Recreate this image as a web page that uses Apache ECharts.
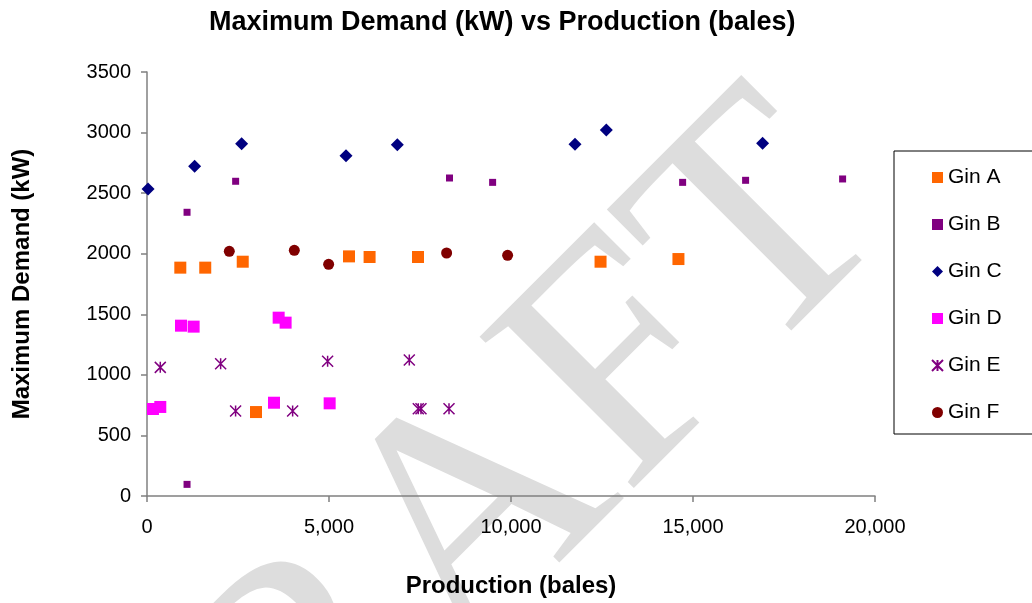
<!DOCTYPE html>
<html>
<head>
<meta charset="utf-8">
<script src="https://cdn.jsdelivr.net/npm/echarts@6/dist/echarts.min.js"></script>
<style>html,body{margin:0;padding:0;background:#fff}#c{width:1032px;height:603px}</style>
</head>
<body>
<div id="c"></div>
<script>
const titleText = 'Maximum Demand (kW) vs Production (bales)';
const xAxisName = 'Production (bales)';
const yAxisName = 'Maximum Demand (kW)';
const seriesNames = ['Gin A', 'Gin B', 'Gin C', 'Gin D', 'Gin E', 'Gin F'];

const ginA = [[915,1885],[1600,1885],[2630,1934],[5550,1978],[6115,1973],[7445,1973],[12460,1934],[14600,1956],[2995,693]];
const ginB = [[1100,2342],[2435,2598],[8310,2625],[9495,2589],[14715,2589],[16445,2606],[19110,2617],[1100,96]];
const ginC = [[30,2534],[1308,2722],[2600,2908],[5467,2809],[6876,2900],[11758,2903],[12618,3021],[16912,2911]];
const ginD = [[934,1406],[1281,1398],[3617,1472],[3808,1431],[164,718],[365,735],[3489,770],[5018,765]];
const ginE = [[365,1062],[2023,1092],[2434,702],[4001,702],[4962,1112],[7206,1123],[7453,721],[7527,721],[8297,721]];
const ginF = [[2261,2020],[4047,2028],[4990,1912],[8231,2006],[9907,1987]];

const chart = echarts.init(document.getElementById('c'), null, {renderer: 'canvas'});
const FONT = 'Liberation Sans, Arial, sans-serif';
const asterisk = 'path://M0,0L10,10M10,0L0,10M5,0L5,10';

function sc(name, data, symbol, size, color, extra) {
  return Object.assign({
    name: name, type: 'scatter', data: data, symbol: symbol, symbolSize: size,
    itemStyle: {color: color, opacity: 1}, z: 3
  }, extra || {});
}

chart.setOption({
  animation: false,
  backgroundColor: '#fff',
  title: {
    text: titleText, left: 204, top: 4,
    textStyle: {fontFamily: FONT, fontSize: 27, fontWeight: 'bold', color: '#000'}
  },
  graphic: [{
    type: 'text', left: -45, top: 46, z: -10, silent: true,
    rotation: Math.PI / 4,
    style: {text: 'DRAFT', font: '330px "Liberation Serif", serif', fill: '#dddddd'}
  }],
  legend: {
    orient: 'vertical', left: 894, top: 151,
    padding: [16, 80, 11, 37],
    itemGap: 26, itemWidth: 11, itemHeight: 11, itemTextGap: 7,
    borderColor: '#000', borderWidth: 1, backgroundColor: '#fff',
    textStyle: {fontFamily: FONT, fontSize: 21, color: '#000'},
    data: seriesNames
  },
  grid: {left: 147, right: 157, top: 72, bottom: 107, containLabel: false},
  xAxis: {
    type: 'value', min: 0, max: 20000, interval: 5000,
    name: xAxisName, nameLocation: 'middle', nameGap: 78,
    nameTextStyle: {fontFamily: FONT, fontSize: 24, fontWeight: 'bold', color: '#000'},
    axisLine: {show: true, onZero: false, lineStyle: {color: '#808080', width: 1.5}},
    axisTick: {show: true, inside: false, length: 6, lineStyle: {color: '#808080', width: 1.5}},
    axisLabel: {fontFamily: FONT, fontSize: 20, color: '#000', margin: 21,
      formatter: v => v.toLocaleString('en-US')},
    splitLine: {show: false}
  },
  yAxis: {
    type: 'value', min: 0, max: 3500, interval: 500,
    name: yAxisName, nameLocation: 'middle', nameGap: 113,
    nameTextStyle: {fontFamily: FONT, fontSize: 24, fontWeight: 'bold', color: '#000'},
    axisLine: {show: true, lineStyle: {color: '#808080', width: 1.5}},
    axisTick: {show: true, inside: false, length: 6, lineStyle: {color: '#808080', width: 1.5}},
    axisLabel: {fontFamily: FONT, fontSize: 20, color: '#000', margin: 16,
      formatter: v => String(v)},
    splitLine: {show: false}
  },
  series: [
    sc('Gin A', ginA, 'rect', 12, '#FF6600'),
    sc('Gin B', ginB, 'rect', 7, '#800080'),
    sc('Gin C', ginC, 'diamond', [13, 13], '#000080'),
    sc('Gin D', ginD, 'rect', 12, '#FF00FF'),
    sc('Gin E', ginE, asterisk, 11, '#800080', {
      itemStyle: {color: 'rgba(0,0,0,0)', borderColor: '#800080', borderWidth: 1.5, opacity: 1}
    }),
    sc('Gin F', ginF, 'circle', 11, '#800000')
  ]
});
</script>
</body>
</html>
